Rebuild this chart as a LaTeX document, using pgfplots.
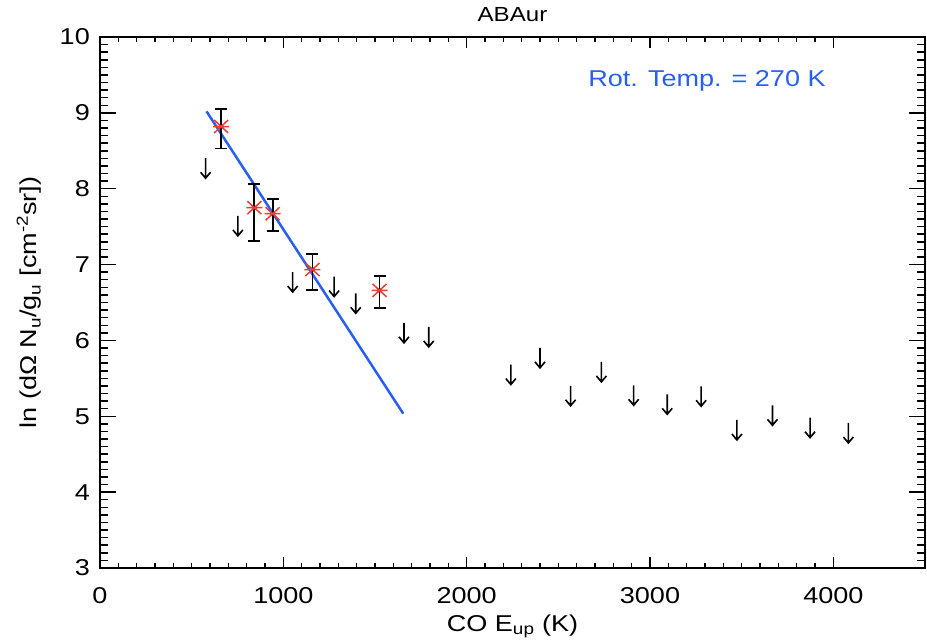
\documentclass[border=0pt]{standalone}
\usepackage{pgfplots}
\pgfplotsset{compat=1.18}
\usepackage{fontspec}
\setmainfont[FakeStretch=1.18]{Liberation Sans}
\definecolor{idlred}{RGB}{228,64,52}
\definecolor{idlblue}{RGB}{40,95,240}
\pgfdeclareplotmark{dnarrow}{%
  \pgfpathmoveto{\pgfqpoint{0bp}{10bp}}\pgfpathlineto{\pgfqpoint{0bp}{-10bp}}%
  \pgfpathmoveto{\pgfqpoint{-5bp}{-4bp}}\pgfpathlineto{\pgfqpoint{0bp}{-10bp}}\pgfpathlineto{\pgfqpoint{5bp}{-4bp}}%
  \pgfusepathqstroke}
\pgfdeclareplotmark{ebcap}{%
  \pgfpathmoveto{\pgfqpoint{0bp}{-6bp}}\pgfpathlineto{\pgfqpoint{0bp}{6bp}}%
  \pgfusepathqstroke}
\pgfdeclareplotmark{bigast}{%
  \pgfpathmoveto{\pgfqpoint{-8bp}{0bp}}\pgfpathlineto{\pgfqpoint{8bp}{0bp}}%
  \pgfpathmoveto{\pgfqpoint{-7bp}{-6.5bp}}\pgfpathlineto{\pgfqpoint{7bp}{6.5bp}}%
  \pgfpathmoveto{\pgfqpoint{-7bp}{6.5bp}}\pgfpathlineto{\pgfqpoint{7bp}{-6.5bp}}%
  \pgfusepathqstroke}
\begin{document}
\begin{tikzpicture}
\useasboundingbox (-100bp,-76bp) rectangle (827bp,568bp);
\begin{axis}[
  at={(0,0)}, anchor=south west, scale only axis,
  width=825bp, height=531bp,
  xmin=0, xmax=4500, ymin=3, ymax=10,
  xtick={0,1000,2000,3000,4000}, ytick={3,4,5,6,7,8,9,10},
  minor x tick num=9, minor y tick num=9,
  tick align=inside, xtick pos=both, ytick pos=both,
  axis line style={line width=1.6bp},
  tick style={black, line width=1.5bp},
  x tick style={/pgfplots/major tick length=11bp, /pgfplots/minor tick length=5.5bp},
  y tick style={/pgfplots/major tick length=16bp, /pgfplots/minor tick length=8bp},
  /pgf/number format/assume math mode=true,
  /pgf/number format/set thousands separator={},
  tick label style={font=\fontsize{23}{23}\selectfont},
  xticklabel style={anchor=base, yshift=-35bp},
  yticklabel style={anchor=east, inner sep=0pt, xshift=-10bp},
  title={ABAur},
  title style={at={(axis description cs:0.5,1)}, anchor=base, yshift=10bp, font=\fontsize{20.5}{20.5}\selectfont},
  xlabel={CO E\textsubscript{up} (K)},
  xlabel style={at={(axis description cs:0.5,0)}, anchor=base, yshift=-63bp, font=\fontsize{23}{23}\selectfont},
  ylabel={ln (dΩ N\textsubscript{u}/g\textsubscript{u} [cm\textsuperscript{-2}sr])},
  every axis y label/.style={at={(axis description cs:-0.0764,0.5)}, rotate=90, anchor=base, font=\fontsize{23}{23}\selectfont},
]
% fit line
\addplot[idlblue, line width=2.5bp] coordinates {(581,9.02) (1654,5.035)};
% error bars
\addplot[black, only marks, mark=none,
  error bars/.cd, y dir=both, y explicit,
  error bar style={line width=1.8bp, black, solid},
  error mark=ebcap,
  error mark options={draw=black, line width=1.8bp, solid}]
  coordinates {
  (661,8.82) += (0,0.23) -= (0,0.29)
  (842,7.75) += (0,0.31) -= (0,0.44)
  (942,7.67) += (0,0.19) -= (0,0.23)
  (1159,6.935) += (0,0.205) -= (0,0.275)
  (1525,6.66) += (0,0.19) -= (0,0.23)
  };
% detections
\addplot[only marks, mark=bigast, mark options={draw=idlred, line width=1.5bp}]
  coordinates {(661,8.82) (842,7.75) (942,7.67) (1159,6.935) (1525,6.66)};
% upper limits
\addplot[only marks, mark=dnarrow, mark options={black, line width=1.6bp}]
  coordinates {
  (576,8.27) (752,7.51) (1051,6.77) (1277,6.71) (1395,6.49)
  (1658,6.10) (1793,6.046) (2241,5.55) (2400,5.77) (2567,5.27)
  (2735,5.585) (2911,5.277) (3094,5.158) (3279,5.264) (3474,4.82)
  (3668,5.013) (3873,4.85) (4082,4.78)
  };
\node[anchor=base west, inner sep=0pt, text=idlblue, font=\fontsize{23}{23}\selectfont]
  at (axis cs:2663,9.344) {Rot. Temp. = 270 K};
\end{axis}
\end{tikzpicture}
\end{document}
